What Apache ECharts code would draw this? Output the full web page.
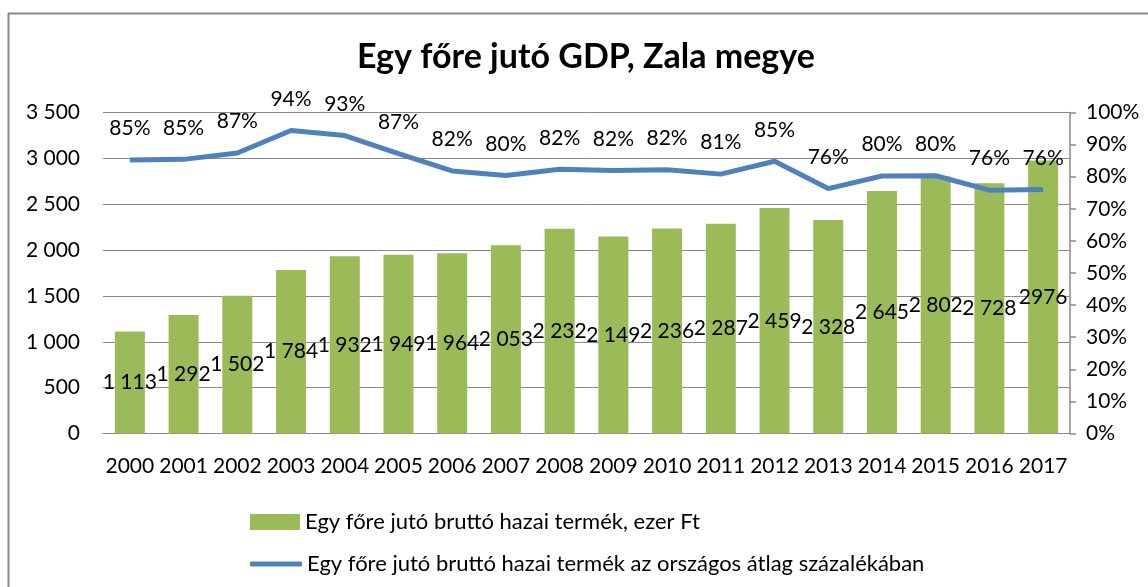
<!DOCTYPE html>
<html>
<head>
<meta charset="utf-8">
<script src="https://cdn.jsdelivr.net/npm/echarts@6/dist/echarts.min.js"></script>
<style>
html,body{margin:0;padding:0;background:#fff;}
#chart{width:1148px;height:587px;}
</style>
</head>
<body>
<div id="chart"></div>
<script>
const years = ['2000','2001','2002','2003','2004','2005','2006','2007','2008','2009','2010','2011','2012','2013','2014','2015','2016','2017'];
const gdpValues = [1113,1292,1502,1784,1932,1949,1964,2053,2232,2149,2236,2287,2459,2328,2645,2802,2728,2976];
const gdpLabels = ['1 113','1 292','1 502','1 784','1 932','1 949','1 964','2 053','2 232','2 149','2 236','2 287','2 459','2 328','2 645','2 802','2 728','2976'];
const pctValues = [85.2,85.4,87.4,94.4,92.8,87.2,81.8,80.4,82.3,81.9,82.2,80.8,84.8,76.3,80.2,80.3,75.8,76.0];
const barName = 'Egy főre jutó bruttó hazai termék, ezer Ft';
const lineName = 'Egy főre jutó bruttó hazai termék az országos átlag százalékában';
const titleText = 'Egy főre jutó GDP, Zala megye';

const FONT = 'Lato, "Open Sans", sans-serif';
const GRID_COLOR = '#898989';

const chart = echarts.init(document.getElementById('chart'), null, {renderer: 'canvas'});
chart.setOption({
  animation: false,
  backgroundColor: '#ffffff',
  textStyle: {fontFamily: FONT},
  title: {
    text: titleText,
    left: 357,
    top: 40,
    padding: 0,
    textStyle: {fontFamily: FONT, fontSize: 34, fontWeight: 'bold', color: '#000'}
  },
  graphic: [
    {type: 'line', shape: {x1: 8.5, y1: 13, x2: 8.5, y2: 587}, style: {stroke: '#8a8a8a', lineWidth: 2}},
    {type: 'line', shape: {x1: 8, y1: 13.5, x2: 1148, y2: 13.5}, style: {stroke: '#8a8a8a', lineWidth: 2}}
  ],
  legend: [
    {
      data: [{name: barName, icon: 'rect'}],
      left: 250, top: 511, padding: 0,
      itemWidth: 50, itemHeight: 16,
      textStyle: {fontFamily: FONT, fontSize: 22, color: '#000'}
    },
    {
      data: [{name: lineName, icon: 'roundRect'}],
      left: 250, top: 553, padding: 0,
      itemWidth: 52, itemHeight: 5,
      textStyle: {fontFamily: FONT, fontSize: 22, color: '#000'}
    }
  ],
  grid: {left: 103, right: 78, top: 112.5, bottom: 153.5, containLabel: false},
  xAxis: {
    type: 'category',
    data: years,
    axisLine: {show: true, lineStyle: {color: GRID_COLOR, width: 1}},
    axisTick: {show: false},
    axisLabel: {fontFamily: FONT, fontSize: 21, color: '#000', margin: 22, interval: 0}
  },
  yAxis: [
    {
      type: 'value', min: 0, max: 3500, interval: 500,
      axisLine: {show: false}, axisTick: {show: false},
      splitLine: {show: true, lineStyle: {color: GRID_COLOR, width: 1}},
      axisLabel: {
        fontFamily: FONT, fontSize: 21, color: '#000', margin: 23,
        formatter: v => String(v).replace(/\B(?=(\d{3})+(?!\d))/g, ' ')
      }
    },
    {
      type: 'value', min: 0, max: 100, interval: 10, position: 'right',
      axisLine: {show: true, lineStyle: {color: GRID_COLOR, width: 1.5}},
      axisTick: {show: true, inside: false, length: 6, lineStyle: {color: GRID_COLOR, width: 1.5}},
      splitLine: {show: false},
      axisLabel: {fontFamily: FONT, fontSize: 21, color: '#000', margin: 16, formatter: '{value}%'}
    }
  ],
  series: [
    {
      name: barName,
      type: 'bar',
      data: gdpValues,
      yAxisIndex: 0,
      barWidth: 30,
      itemStyle: {color: '#9BBB59'},
      label: {
        show: true, position: 'inside', color: '#000',
        fontFamily: FONT, fontSize: 21,
        formatter: p => gdpLabels[p.dataIndex]
      },
      z: 2
    },
    {
      name: lineName,
      type: 'line',
      data: pctValues,
      yAxisIndex: 1,
      symbol: 'circle',
      symbolSize: 0,
      showSymbol: true,
      lineStyle: {color: '#4F81BD', width: 5},
      itemStyle: {color: '#4F81BD'},
      label: {
        show: true, position: 'top', distance: 21, color: '#000',
        fontFamily: FONT, fontSize: 21,
        formatter: p => Math.round(p.value) + '%'
      },
      labelLayout: {hideOverlap: false},
      z: 3
    }
  ]
});
</script>
</body>
</html>
